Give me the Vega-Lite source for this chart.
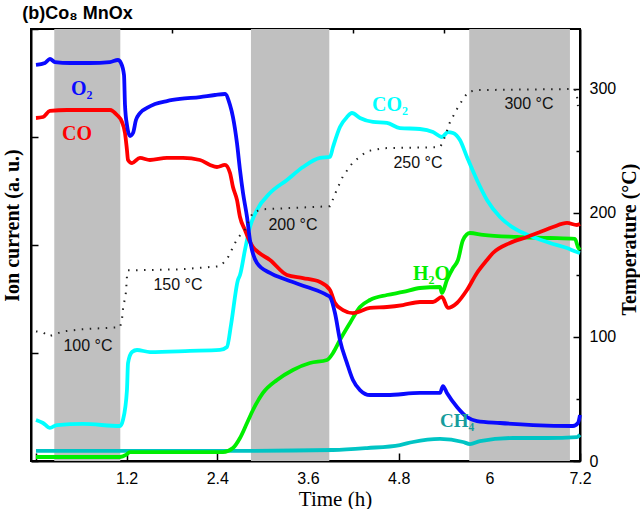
{
  "$schema": "https://vega.github.io/schema/vega-lite/v6.json",
  "width": 549,
  "height": 432,
  "padding": {"left": 2, "top": 5, "right": 0, "bottom": 0},
  "background": "white",
  "title": {"text": "\u200b\u00a0\u00a0\u00a0\u00a0(b)Co₈ MnOx", "anchor": "start", "frame": "bounds", "font": "Liberation Sans", "fontSize": 18, "fontWeight": "bold", "color": "black", "offset": 5},
  "config": {
    "view": {"stroke": "black", "strokeWidth": 2},
    "axis": {"domainColor": "black", "domainWidth": 2, "tickColor": "black", "tickWidth": 1.5, "grid": false, "labelFont": "Liberation Sans", "labelFontSize": 16, "labelColor": "black", "titleFont": "Liberation Serif", "titleFontSize": 20, "titleFontWeight": "bold", "titleColor": "black", "labelFlush": false, "labelOverlap": false}
  },
  "datasets": {
    "bands": [{"t": 0.242, "t2": 1.116}, {"t": 2.845, "t2": 3.882}, {"t": 5.734, "t2": 7.067}],
    "ion": [
      {"series": "CH4", "t": 0, "v": 0.093}, {"series": "CH4", "t": 2.607, "v": 0.093}, {"series": "CH4", "t": 3.931, "v": 0.102}, {"series": "CH4", "t": 4.381, "v": 0.12}, {"series": "CH4", "t": 4.817, "v": 0.148}, {"series": "CH4", "t": 4.989, "v": 0.176}, {"series": "CH4", "t": 5.347, "v": 0.204}, {"series": "CH4", "t": 5.651, "v": 0.176}, {"series": "CH4", "t": 5.744, "v": 0.157}, {"series": "CH4", "t": 5.876, "v": 0.185}, {"series": "CH4", "t": 6.313, "v": 0.213}, {"series": "CH4", "t": 6.763, "v": 0.213}, {"series": "CH4", "t": 7.16, "v": 0.222}, {"series": "CH4", "t": 7.2, "v": 0.241},
      {"series": "H2O", "t": 0, "v": 0.037}, {"series": "H2O", "t": 1.112, "v": 0.037}, {"series": "H2O", "t": 1.191, "v": 0.056}, {"series": "H2O", "t": 1.244, "v": 0.083}, {"series": "H2O", "t": 1.734, "v": 0.083}, {"series": "H2O", "t": 2.475, "v": 0.083}, {"series": "H2O", "t": 2.607, "v": 0.12}, {"series": "H2O", "t": 2.7, "v": 0.213}, {"series": "H2O", "t": 2.793, "v": 0.352}, {"series": "H2O", "t": 2.872, "v": 0.472}, {"series": "H2O", "t": 3.004, "v": 0.63}, {"series": "H2O", "t": 3.19, "v": 0.75}, {"series": "H2O", "t": 3.401, "v": 0.843}, {"series": "H2O", "t": 3.626, "v": 0.907}, {"series": "H2O", "t": 3.851, "v": 0.935}, {"series": "H2O", "t": 3.931, "v": 1.0}, {"series": "H2O", "t": 4.023, "v": 1.12}, {"series": "H2O", "t": 4.156, "v": 1.278}, {"series": "H2O", "t": 4.288, "v": 1.426}, {"series": "H2O", "t": 4.42, "v": 1.491}, {"series": "H2O", "t": 4.645, "v": 1.537}, {"series": "H2O", "t": 4.857, "v": 1.565}, {"series": "H2O", "t": 5.082, "v": 1.602}, {"series": "H2O", "t": 5.347, "v": 1.611}, {"series": "H2O", "t": 5.373, "v": 1.556}, {"series": "H2O", "t": 5.439, "v": 1.676}, {"series": "H2O", "t": 5.519, "v": 1.787}, {"series": "H2O", "t": 5.585, "v": 1.861}, {"series": "H2O", "t": 5.651, "v": 2.046}, {"series": "H2O", "t": 5.744, "v": 2.111}, {"series": "H2O", "t": 5.916, "v": 2.093}, {"series": "H2O", "t": 6.366, "v": 2.074}, {"series": "H2O", "t": 6.803, "v": 2.065}, {"series": "H2O", "t": 7.133, "v": 2.056}, {"series": "H2O", "t": 7.173, "v": 1.981}, {"series": "H2O", "t": 7.2, "v": 1.954},
      {"series": "CO2", "t": 0, "v": 0.38}, {"series": "CO2", "t": 0.093, "v": 0.352}, {"series": "CO2", "t": 0.185, "v": 0.306}, {"series": "CO2", "t": 0.278, "v": 0.333}, {"series": "CO2", "t": 0.622, "v": 0.343}, {"series": "CO2", "t": 1.112, "v": 0.324}, {"series": "CO2", "t": 1.151, "v": 0.38}, {"series": "CO2", "t": 1.204, "v": 0.657}, {"series": "CO2", "t": 1.218, "v": 0.907}, {"series": "CO2", "t": 1.271, "v": 1.009}, {"series": "CO2", "t": 1.337, "v": 1.028}, {"series": "CO2", "t": 1.509, "v": 1.009}, {"series": "CO2", "t": 2.038, "v": 1.019}, {"series": "CO2", "t": 2.435, "v": 1.028}, {"series": "CO2", "t": 2.528, "v": 1.056}, {"series": "CO2", "t": 2.581, "v": 1.259}, {"series": "CO2", "t": 2.673, "v": 1.676}, {"series": "CO2", "t": 2.7, "v": 1.722}, {"series": "CO2", "t": 2.766, "v": 1.954}, {"series": "CO2", "t": 2.832, "v": 2.167}, {"series": "CO2", "t": 2.925, "v": 2.324}, {"series": "CO2", "t": 3.097, "v": 2.481}, {"series": "CO2", "t": 3.322, "v": 2.602}, {"series": "CO2", "t": 3.534, "v": 2.722}, {"series": "CO2", "t": 3.759, "v": 2.806}, {"series": "CO2", "t": 3.891, "v": 2.815}, {"series": "CO2", "t": 3.931, "v": 2.907}, {"series": "CO2", "t": 4.023, "v": 3.093}, {"series": "CO2", "t": 4.116, "v": 3.185}, {"series": "CO2", "t": 4.182, "v": 3.222}, {"series": "CO2", "t": 4.288, "v": 3.176}, {"series": "CO2", "t": 4.46, "v": 3.139}, {"series": "CO2", "t": 4.645, "v": 3.13}, {"series": "CO2", "t": 4.817, "v": 3.083}, {"series": "CO2", "t": 5.082, "v": 3.074}, {"series": "CO2", "t": 5.254, "v": 3.046}, {"series": "CO2", "t": 5.373, "v": 3.0}, {"series": "CO2", "t": 5.452, "v": 3.046}, {"series": "CO2", "t": 5.519, "v": 3.037}, {"series": "CO2", "t": 5.611, "v": 2.972}, {"series": "CO2", "t": 5.704, "v": 2.815}, {"series": "CO2", "t": 5.836, "v": 2.602}, {"series": "CO2", "t": 5.969, "v": 2.417}, {"series": "CO2", "t": 6.141, "v": 2.259}, {"series": "CO2", "t": 6.366, "v": 2.139}, {"series": "CO2", "t": 6.578, "v": 2.074}, {"series": "CO2", "t": 6.803, "v": 2.019}, {"series": "CO2", "t": 7.028, "v": 1.972}, {"series": "CO2", "t": 7.16, "v": 1.935}, {"series": "CO2", "t": 7.2, "v": 1.926},
      {"series": "CO", "t": 0, "v": 3.176}, {"series": "CO", "t": 0.093, "v": 3.185}, {"series": "CO", "t": 0.185, "v": 3.241}, {"series": "CO", "t": 0.41, "v": 3.25}, {"series": "CO", "t": 0.847, "v": 3.25}, {"series": "CO", "t": 0.979, "v": 3.25}, {"series": "CO", "t": 1.072, "v": 3.204}, {"series": "CO", "t": 1.138, "v": 3.139}, {"series": "CO", "t": 1.178, "v": 3.037}, {"series": "CO", "t": 1.204, "v": 2.88}, {"series": "CO", "t": 1.218, "v": 2.787}, {"series": "CO", "t": 1.271, "v": 2.759}, {"series": "CO", "t": 1.376, "v": 2.806}, {"series": "CO", "t": 1.509, "v": 2.787}, {"series": "CO", "t": 1.734, "v": 2.806}, {"series": "CO", "t": 1.945, "v": 2.806}, {"series": "CO", "t": 2.17, "v": 2.787}, {"series": "CO", "t": 2.303, "v": 2.741}, {"series": "CO", "t": 2.395, "v": 2.722}, {"series": "CO", "t": 2.501, "v": 2.741}, {"series": "CO", "t": 2.568, "v": 2.667}, {"series": "CO", "t": 2.607, "v": 2.537}, {"series": "CO", "t": 2.66, "v": 2.417}, {"series": "CO", "t": 2.7, "v": 2.259}, {"series": "CO", "t": 2.766, "v": 2.139}, {"series": "CO", "t": 2.832, "v": 2.028}, {"series": "CO", "t": 2.872, "v": 1.981}, {"series": "CO", "t": 2.938, "v": 1.935}, {"series": "CO", "t": 3.097, "v": 1.861}, {"series": "CO", "t": 3.322, "v": 1.722}, {"series": "CO", "t": 3.534, "v": 1.694}, {"series": "CO", "t": 3.759, "v": 1.657}, {"series": "CO", "t": 3.891, "v": 1.583}, {"series": "CO", "t": 3.957, "v": 1.463}, {"series": "CO", "t": 4.063, "v": 1.398}, {"series": "CO", "t": 4.195, "v": 1.37}, {"series": "CO", "t": 4.42, "v": 1.417}, {"series": "CO", "t": 4.645, "v": 1.426}, {"series": "CO", "t": 4.857, "v": 1.444}, {"series": "CO", "t": 5.082, "v": 1.472}, {"series": "CO", "t": 5.254, "v": 1.472}, {"series": "CO", "t": 5.373, "v": 1.519}, {"series": "CO", "t": 5.452, "v": 1.417}, {"series": "CO", "t": 5.572, "v": 1.463}, {"series": "CO", "t": 5.704, "v": 1.583}, {"series": "CO", "t": 5.836, "v": 1.741}, {"series": "CO", "t": 5.969, "v": 1.861}, {"series": "CO", "t": 6.048, "v": 1.926}, {"series": "CO", "t": 6.273, "v": 2.019}, {"series": "CO", "t": 6.498, "v": 2.074}, {"series": "CO", "t": 6.67, "v": 2.12}, {"series": "CO", "t": 6.842, "v": 2.167}, {"series": "CO", "t": 7.028, "v": 2.204}, {"series": "CO", "t": 7.16, "v": 2.185}, {"series": "CO", "t": 7.2, "v": 2.194},
      {"series": "O2", "t": 0, "v": 3.667}, {"series": "O2", "t": 0.119, "v": 3.685}, {"series": "O2", "t": 0.185, "v": 3.722}, {"series": "O2", "t": 0.251, "v": 3.694}, {"series": "O2", "t": 0.45, "v": 3.685}, {"series": "O2", "t": 0.715, "v": 3.685}, {"series": "O2", "t": 0.979, "v": 3.694}, {"series": "O2", "t": 1.085, "v": 3.713}, {"series": "O2", "t": 1.125, "v": 3.685}, {"series": "O2", "t": 1.165, "v": 3.574}, {"series": "O2", "t": 1.178, "v": 3.296}, {"series": "O2", "t": 1.204, "v": 3.111}, {"series": "O2", "t": 1.244, "v": 3.009}, {"series": "O2", "t": 1.284, "v": 3.037}, {"series": "O2", "t": 1.323, "v": 3.157}, {"series": "O2", "t": 1.376, "v": 3.222}, {"series": "O2", "t": 1.469, "v": 3.269}, {"series": "O2", "t": 1.575, "v": 3.306}, {"series": "O2", "t": 1.734, "v": 3.333}, {"series": "O2", "t": 1.906, "v": 3.352}, {"series": "O2", "t": 2.17, "v": 3.37}, {"series": "O2", "t": 2.369, "v": 3.389}, {"series": "O2", "t": 2.501, "v": 3.398}, {"series": "O2", "t": 2.568, "v": 3.296}, {"series": "O2", "t": 2.607, "v": 3.185}, {"series": "O2", "t": 2.66, "v": 2.944}, {"series": "O2", "t": 2.7, "v": 2.694}, {"series": "O2", "t": 2.74, "v": 2.481}, {"series": "O2", "t": 2.793, "v": 2.259}, {"series": "O2", "t": 2.832, "v": 2.046}, {"series": "O2", "t": 2.859, "v": 1.954}, {"series": "O2", "t": 2.925, "v": 1.833}, {"series": "O2", "t": 3.097, "v": 1.741}, {"series": "O2", "t": 3.322, "v": 1.676}, {"series": "O2", "t": 3.587, "v": 1.611}, {"series": "O2", "t": 3.851, "v": 1.537}, {"series": "O2", "t": 3.891, "v": 1.519}, {"series": "O2", "t": 3.957, "v": 1.37}, {"series": "O2", "t": 4.023, "v": 1.12}, {"series": "O2", "t": 4.116, "v": 0.907}, {"series": "O2", "t": 4.195, "v": 0.75}, {"series": "O2", "t": 4.288, "v": 0.657}, {"series": "O2", "t": 4.42, "v": 0.611}, {"series": "O2", "t": 4.645, "v": 0.611}, {"series": "O2", "t": 5.082, "v": 0.63}, {"series": "O2", "t": 5.347, "v": 0.63}, {"series": "O2", "t": 5.386, "v": 0.694}, {"series": "O2", "t": 5.439, "v": 0.63}, {"series": "O2", "t": 5.572, "v": 0.5}, {"series": "O2", "t": 5.704, "v": 0.407}, {"series": "O2", "t": 5.836, "v": 0.37}, {"series": "O2", "t": 6.141, "v": 0.352}, {"series": "O2", "t": 6.578, "v": 0.333}, {"series": "O2", "t": 7.107, "v": 0.324}, {"series": "O2", "t": 7.173, "v": 0.352}, {"series": "O2", "t": 7.2, "v": 0.426}
    ],
    "ionlabels": [
      {"series": "O2", "label": "O₂", "t": 0.463, "v": 3.389},
      {"series": "CO", "label": "CO", "t": 0.344, "v": 2.972},
      {"series": "CO2", "label": "CO₂", "t": 4.447, "v": 3.241},
      {"series": "H2O", "label": "H₂O", "t": 4.989, "v": 1.676},
      {"series": "CH4", "label": "CH₄", "t": 5.347, "v": 0.315}
    ],
    "temp": [
      {"t": 0, "T": 104.4}, {"t": 0.093, "T": 103.6}, {"t": 0.172, "T": 100.4}, {"t": 0.357, "T": 104.4}, {"t": 0.582, "T": 106}, {"t": 0.847, "T": 106.9}, {"t": 1.112, "T": 107.7}, {"t": 1.138, "T": 114.1}, {"t": 1.151, "T": 122.2}, {"t": 1.191, "T": 135.9}, {"t": 1.204, "T": 148.8}, {"t": 1.218, "T": 153.6}, {"t": 1.31, "T": 153.6}, {"t": 1.906, "T": 154.4}, {"t": 2.435, "T": 156.9}, {"t": 2.528, "T": 162.5}, {"t": 2.594, "T": 170.6}, {"t": 2.66, "T": 178.6}, {"t": 2.766, "T": 186.7}, {"t": 2.872, "T": 200.4}, {"t": 3.004, "T": 202.8}, {"t": 3.891, "T": 205.2}, {"t": 3.931, "T": 210.9}, {"t": 3.984, "T": 219}, {"t": 4.063, "T": 229.4}, {"t": 4.195, "T": 240.7}, {"t": 4.381, "T": 249.6}, {"t": 4.592, "T": 252}, {"t": 5.347, "T": 252.8}, {"t": 5.386, "T": 256.9}, {"t": 5.479, "T": 273}, {"t": 5.572, "T": 283.5}, {"t": 5.651, "T": 291.5}, {"t": 5.718, "T": 297.2}, {"t": 5.836, "T": 298.8}, {"t": 7.028, "T": 299.6}, {"t": 7.133, "T": 299.6}, {"t": 7.16, "T": 294}, {"t": 7.173, "T": 285.9}
    ],
    "templabels": [
      {"label": "100 °C", "t": 0.688, "T": 92.3},
      {"label": "150 °C", "t": 1.879, "T": 141.8},
      {"label": "200 °C", "t": 3.401, "T": 189.9},
      {"label": "250 °C", "t": 5.056, "T": 239.9},
      {"label": "300 °C", "t": 6.525, "T": 287.5}
    ]
  },
  "layer": [
    {
      "encoding": {
        "x": {"field": "t", "type": "quantitative", "scale": {"domain": [-0.066, 7.2], "nice": false, "zero": false},
          "axis": {"values": [0, 1.2, 2.4, 3.6, 4.8, 6, 7.2], "labelExpr": "datum.value == 0 ? '' : format(datum.value, '~g')", "tickSize": -8, "labelPadding": 17, "title": "Time (h)", "titleFontWeight": "normal", "titleFontSize": 21, "titleX": 304, "titlePadding": 2}}
      },
      "layer": [
        {
          "data": {"name": "bands"},
          "mark": {"type": "rect", "color": "#c0c0c0"},
          "encoding": {"x2": {"field": "t2"}}
        },
        {
          "data": {"name": "ion"},
          "mark": {"type": "line", "strokeWidth": 3.8, "interpolate": "monotone"},
          "encoding": {
            "y": {"field": "v", "type": "quantitative", "scale": {"domain": [0, 4], "nice": false, "zero": false},
              "axis": {"orient": "left", "values": [0, 1, 2, 3, 4], "labels": false, "tickSize": -7, "title": "Ion current (a. u.)", "titlePadding": 8, "titleY": 196}},
            "color": {"field": "series", "type": "nominal", "legend": null,
              "scale": {"domain": ["O2", "CO", "CO2", "H2O", "CH4"], "range": ["#0a0aff", "#ff0000", "#00ffff", "#00ee00", "#00c4c4"]}}
          }
        },
        {
          "data": {"name": "ionlabels"},
          "transform": [{"filter": "datum.series != 'CH4'"}],
          "mark": {"type": "text", "align": "left", "baseline": "alphabetic", "font": "Liberation Serif", "fontWeight": "bold", "fontSize": 20},
          "encoding": {
            "y": {"field": "v", "type": "quantitative"},
            "text": {"field": "label"},
            "color": {"field": "series", "type": "nominal", "legend": null}
          }
        },
        {
          "data": {"name": "ionlabels"},
          "transform": [{"filter": "datum.series == 'CH4'"}],
          "mark": {"type": "text", "align": "left", "baseline": "alphabetic", "font": "Liberation Serif", "fontWeight": "bold", "fontSize": 19, "color": "#169c9c"},
          "encoding": {
            "y": {"field": "v", "type": "quantitative"},
            "text": {"field": "label"}
          }
        }
      ]
    },
    {
      "data": {"name": "temp"},
      "mark": {"type": "line", "color": "#222222", "strokeWidth": 2, "strokeDash": [1.5, 6.5]},
      "encoding": {
        "x": {"field": "t", "type": "quantitative", "scale": {"domain": [-0.066, 7.2], "nice": false, "zero": false},
          "axis": {"values": [0.6, 1.8, 3, 4.2, 5.4, 6.6], "labels": false, "tickSize": -4, "domain": false, "title": null}},
        "y": {"field": "T", "type": "quantitative", "scale": {"domain": [0, 348], "nice": false, "zero": false},
          "axis": {"orient": "right", "values": [0, 100, 200, 300], "tickSize": -7, "labelPadding": 16, "title": "Temperature (°C)", "titleAngle": 270, "titleBaseline": "top", "titlePadding": 4, "titleY": 210}}
      }
    },
    {
      "data": {"name": "templabels"},
      "mark": {"type": "text", "align": "center", "baseline": "middle", "font": "Liberation Sans", "fontSize": 16, "color": "#111111"},
      "encoding": {
        "x": {"field": "t", "type": "quantitative", "scale": {"domain": [-0.066, 7.2], "nice": false, "zero": false}, "axis": null},
        "y": {"field": "T", "type": "quantitative", "scale": {"domain": [0, 348], "nice": false, "zero": false},
          "axis": {"orient": "right", "values": [50, 150, 250], "labels": false, "tickSize": -4, "domain": false, "title": null}},
        "text": {"field": "label"}
      }
    }
  ],
  "resolve": {"scale": {"y": "independent"}, "axis": {"x": "independent", "y": "independent"}}
}
